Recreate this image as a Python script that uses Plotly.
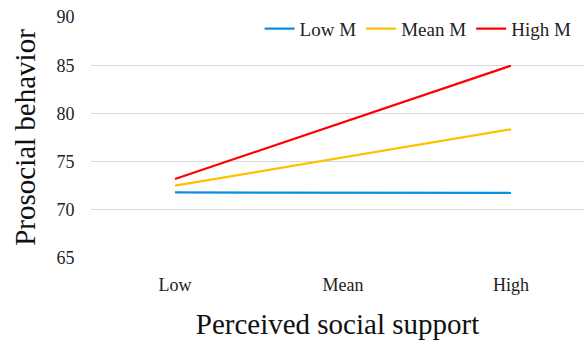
import plotly.graph_objects as go

categories = ["Low", "Mean", "High"]
low_m = [71.8, 71.78, 71.75]
mean_m = [72.5, 75.4, 78.35]
high_m = [73.2, 79.1, 84.95]
series_names = ["Low M", "Mean M", "High M"]
colors = ["#0A8FE0", "#FFC000", "#FF0000"]

W, H = 584, 342
fig = go.Figure()
for name, vals, c in zip(series_names, [low_m, mean_m, high_m], colors):
    fig.add_trace(go.Scatter(x=categories, y=vals, mode="lines", name=name,
                             line=dict(color=c, width=2.2)))

font = "Liberation Serif, Times New Roman, serif"
fig.update_layout(
    width=W, height=H,
    margin=dict(l=91, r=0, t=17, b=84, autoexpand=False),
    paper_bgcolor="white", plot_bgcolor="white",
    font=dict(family=font, color="#222222"),
    showlegend=True,
    legend=dict(orientation="h", x=0.985, xanchor="right", y=1.03, yanchor="top",
                font=dict(size=19, family=font, color="#222222"),
                bgcolor="rgba(0,0,0,0)", itemwidth=30, tracegroupgap=0),
    xaxis=dict(type="category", range=[-0.5, 2.435], showgrid=False, zeroline=False,
               showline=False, ticks="outside", ticklen=10, tickcolor="rgba(0,0,0,0)",
               tickfont=dict(size=18, family=font, color="#222222"),
               title=dict(text="Perceived social support", font=dict(size=29, family=font, color="#111111"),
                          standoff=20)),
    yaxis=dict(range=[65, 90], dtick=5, showgrid=True, gridcolor="#D9D9D9", gridwidth=1,
               zeroline=False, showline=False, ticks="outside", ticklen=12,
               tickcolor="rgba(0,0,0,0)",
               tickfont=dict(size=18, family=font, color="#222222"),
               title=dict(text="Prosocial behavior", font=dict(size=29, family=font, color="#111111"),
                          standoff=12)),
)
fig.write_html("out.html", config={"displayModeBar": False},
               post_script="document.body.style.margin='0';document.body.style.padding='0';")
